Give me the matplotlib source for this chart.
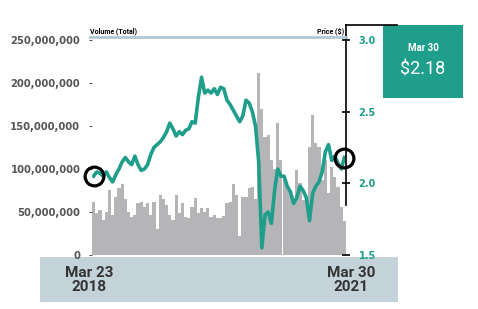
import matplotlib
matplotlib.use("Agg")
import matplotlib.pyplot as plt
from matplotlib.patches import Rectangle
from matplotlib.lines import Line2D
import numpy as np

# ---------------- data ----------------
price = [2.05, 2.08, 2.07, 2.05, 2.08, 2.04, 2.01, 2.06, 2.10, 2.15,
         2.18, 2.15, 2.13, 2.19, 2.13, 2.09, 2.10, 2.13, 2.20, 2.25,
         2.27, 2.29, 2.32, 2.36, 2.42, 2.38, 2.33, 2.36, 2.34, 2.37,
         2.38, 2.43, 2.42, 2.60, 2.74, 2.63, 2.65, 2.63, 2.66, 2.62,
         2.67, 2.66, 2.58, 2.55, 2.51, 2.47, 2.43, 2.47, 2.58, 2.56,
         2.50, 2.40, 2.15, 1.55, 1.78, 1.80, 1.72, 1.95, 2.10, 2.05,
         2.05, 1.98, 1.94, 1.86, 1.90, 1.98, 1.95, 1.90, 1.74, 1.93,
         1.98, 2.01, 2.08, 2.22, 2.27, 2.16, 2.19, 2.14, 2.10, 2.18]

volume_m = [62, 49, 52, 41, 50, 76, 47, 67, 78, 83,
            65, 50, 44, 46, 60, 62, 56, 60, 47, 62,
            30, 70, 65, 58, 47, 41, 70, 49, 60, 44,
            43, 56, 66, 49, 55, 50, 55, 44, 46, 43,
            43, 45, 60, 62, 83, 70, 22, 67, 67, 78,
            79, 65, 212, 170, 137, 140, 110, 100, 153, 110,
            91, 79, 76, 64, 99, 84, 64, 62, 126, 163,
            130, 126, 87, 110, 72, 102, 91, 79, 56, 40]

vol_ticks = [0, 50_000_000, 100_000_000, 150_000_000, 200_000_000, 250_000_000]
vol_tick_labels = ["0", "50,000,000", "100,000,000", "150,000,000",
                   "200,000,000", "250,000,000"]
price_ticks = [1.5, 2.0, 2.5, 3.0]
price_tick_labels = ["1.5", "2.0", "2.5", "3.0"]
start_label = "Mar 23\n2018"
end_label = "Mar 30\n2021"
box_date = "Mar 30"
box_price = "$2.18"
vol_title = "Volume (Total)"
price_title = "Price ($)"

# ---------------- styling ----------------
TEAL = "#1f9e8c"
BAR = "#b5b5b8"
BAND = "#c4d3da"
TOPLINE = "#b3c7d1"
W, H = 478, 309
FONT = ["Roboto", "DejaVu Sans"]
TICKFONT = ["DejaVu Sans"]

def fx(x):
    return x / W

def fy(y):
    return 1 - y / H

fig = plt.figure(figsize=(W / 100, H / 100), dpi=100)

# bottom band
fig.add_artist(Rectangle((fx(40), fy(302)), fx(398) - fx(40), fy(257) - fy(302),
                         transform=fig.transFigure, facecolor=BAND,
                         edgecolor="none", zorder=0))

left, right, top, bottom = 92, 346, 40, 255
ax = fig.add_axes([fx(left), fy(bottom), fx(right) - fx(left), fy(top) - fy(bottom)])
ax.patch.set_alpha(0)
n = len(volume_m)
xs = np.arange(n)
ax.bar(xs, np.array(volume_m) * 1e6, width=1.0, color=BAR, linewidth=0, zorder=1)
ax.set_xlim(-0.5, n - 0.5)
ax.set_ylim(0, 250e6)
ax.set_yticks(vol_ticks)
ax.set_yticklabels(vol_tick_labels, family=TICKFONT, fontsize=7.2,
                   fontweight="bold", color="#555555")
ax.tick_params(axis="y", length=2.5, width=0.8, color="#555555", pad=6)
ax.set_xticks([])
for s in ax.spines.values():
    s.set_visible(False)

ax2 = ax.twinx()
ax2.patch.set_alpha(0)
ax2.plot(xs, price, color=TEAL, linewidth=2.6, zorder=3)
ax2.plot([xs[0], xs[-1]], [price[0], price[-1]], linestyle="none", marker="o",
         markersize=13.5, markerfacecolor="none", markeredgecolor="black",
         markeredgewidth=2.3, clip_on=False, zorder=4)
ax2.set_ylim(1.5, 3.0)
ax2.set_yticks(price_ticks)
ax2.set_yticklabels(price_tick_labels, family=TICKFONT, fontsize=7,
                    fontweight="bold", color=TEAL)
ax2.tick_params(axis="y", direction="inout", length=6, width=1.2,
                color="black", pad=6)
ax2.set_xticks([])
for s in ax2.spines.values():
    s.set_visible(False)

# right axis line and top connector
fig.add_artist(Line2D([fx(346), fx(346)], [fy(25), fy(205)],
                      transform=fig.transFigure, color="black", linewidth=1.2))
fig.add_artist(Line2D([fx(346), fx(397)], [fy(25), fy(25)],
                      transform=fig.transFigure, color="black", linewidth=1.2))
# top light line
fig.add_artist(Line2D([fx(90), fx(346)], [fy(37), fy(37)],
                      transform=fig.transFigure, color=TOPLINE, linewidth=2))
fig.text(fx(90), fy(35.5), vol_title, ha="left", va="bottom", fontsize=5,
         fontweight="bold", color="black", family=FONT)
fig.text(fx(344), fy(35.5), price_title, ha="right", va="bottom", fontsize=5,
         fontweight="bold", color="black", family=FONT)

# value box
fig.add_artist(Rectangle((fx(383), fy(98)), fx(463) - fx(383), fy(25) - fy(98),
                         transform=fig.transFigure, facecolor=TEAL,
                         edgecolor="none"))
fig.text(fx(423), fy(48), box_date, ha="center", va="center", fontsize=7,
         fontweight="bold", color="white", family=FONT)
fig.text(fx(423), fy(69), box_price, ha="center", va="center", fontsize=13,
         color="white", family=FONT)

# date labels under the chart
fig.text(fx(89), fy(280), start_label, ha="center", va="center", fontsize=11,
         fontweight="bold", color="#333333", family=FONT, linespacing=0.95,
         multialignment="center")
fig.text(fx(351), fy(280), end_label, ha="center", va="center", fontsize=11,
         fontweight="bold", color="#333333", family=FONT, linespacing=0.95,
         multialignment="center")

fig.savefig("out.png", dpi=100)
